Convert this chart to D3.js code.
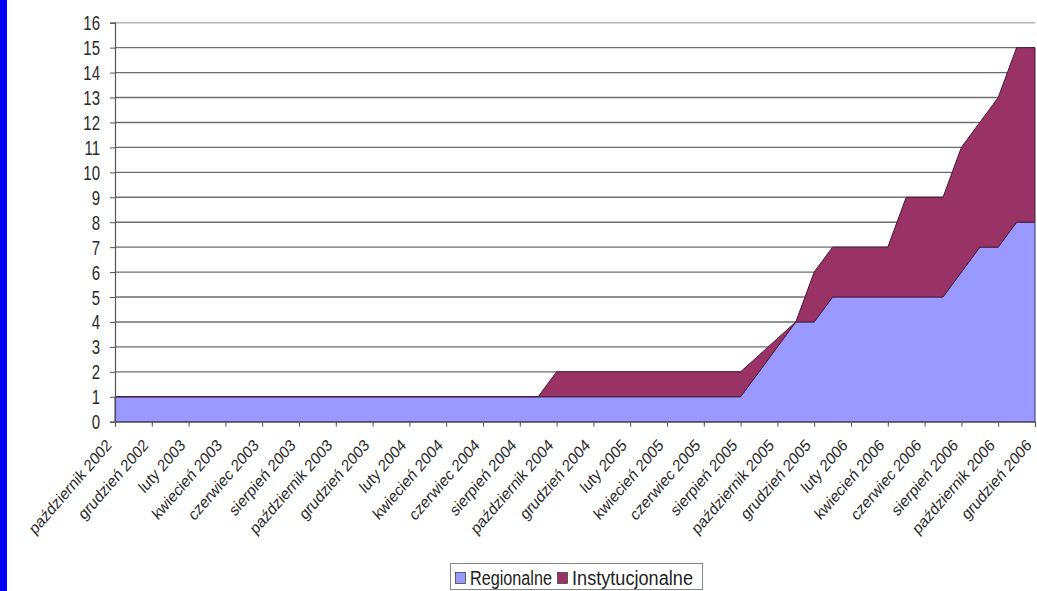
<!DOCTYPE html>
<html><head><meta charset="utf-8">
<script src="https://cdn.jsdelivr.net/npm/d3@7/dist/d3.min.js"></script>
<style>body{margin:0;background:#fff;}svg{display:block;font-family:"Liberation Sans",Arial,sans-serif;}</style>
</head><body>
<svg id="c" width="1037" height="591"></svg>
<script>
// Data
const startMonth = "2002-10";
const pointDates = ["2002-10","2004-09","2004-10","2005-08","2005-11","2005-12","2006-01","2006-04","2006-05","2006-07","2006-08","2006-09","2006-10","2006-11","2006-12"];
const regionalne = [1,1,1,1,4,4,5,5,5,5,6,7,7,8,8];
const instytucjonalne = [0,0,1,1,0,2,2,2,4,4,5,5,6,7,7];
const seriesNames = ["Regionalne","Instytucjonalne"];
const tickLabels = ["październik 2002","grudzień 2002","luty 2003","kwiecień 2003","czerwiec 2003","sierpień 2003",
 "październik 2003","grudzień 2003","luty 2004","kwiecień 2004","czerwiec 2004","sierpień 2004",
 "październik 2004","grudzień 2004","luty 2005","kwiecień 2005","czerwiec 2005","sierpień 2005",
 "październik 2005","grudzień 2005","luty 2006","kwiecień 2006","czerwiec 2006","sierpień 2006",
 "październik 2006","grudzień 2006"];
const yTicks = d3.range(0,17);

const colors = ["#9999FF","#993366"];
const svg = d3.select("#c");
const STRETCH_Y = 1.3;
const STRETCH_X = 1.15;

function monthIndex(s){ const [y,m]=s.split("-").map(Number); const [y0,m0]=startMonth.split("-").map(Number); return (y-y0)*12+(m-m0); }

const x = d3.scaleLinear().domain([0,50]).range([115,1035]);
const y = d3.scaleLinear().domain([0,16]).range([421.7,22.7]);

// blue left strip
svg.append("rect").attr("x",0).attr("y",0).attr("width",7).attr("height",591).attr("fill","#0000FF");

// gridlines
svg.append("g").selectAll("line").data(yTicks.filter(d=>d>0)).join("line")
  .attr("x1",115).attr("x2",1035).attr("y1",d=>y(d)).attr("y2",d=>y(d))
  .attr("stroke",d=>d===16?"#b5b5b5":"#6e6e6e").attr("stroke-width",1.4);

// stacked data
const rows = pointDates.map((d,i)=>({m:monthIndex(d), Regionalne:regionalne[i], Instytucjonalne:instytucjonalne[i]}));
const stack = d3.stack().keys(seriesNames)(rows);
const area = d3.area().x(d=>x(d.data.m)).y0(d=>y(d[0])).y1(d=>y(d[1]));
svg.append("g").selectAll("path").data(stack).join("path")
  .attr("d",area).attr("fill",(d,i)=>colors[i])
  .attr("stroke",(d,i)=>i===0?"#3a3a7a":"#4a1838").attr("stroke-width",1).attr("stroke-linejoin","round");

// y axis
const yAxis = svg.append("g").attr("transform","translate(115,0)")
  .call(d3.axisLeft(y).tickValues(yTicks).tickSize(5).tickFormat(d3.format("d")));
yAxis.select(".domain").attr("stroke","#555").attr("stroke-width",1.2);
yAxis.selectAll(".tick line").attr("stroke","#555");
yAxis.selectAll(".tick text").attr("x",null).attr("dy",null).attr("y",null)
  .attr("transform",`translate(-15,7) scale(1,${STRETCH_Y})`)
  .attr("text-anchor","end").attr("font-size",15).attr("fill","#2a2a2a")
  .attr("font-family","Liberation Sans, Arial, sans-serif");

// x axis
const xAxis = svg.append("g").attr("transform",`translate(0,${y(0)})`)
  .call(d3.axisBottom(x).tickValues(d3.range(0,51,2)).tickSize(5).tickFormat((d,i)=>tickLabels[i]));
xAxis.select(".domain").attr("stroke","#555").attr("stroke-width",1.2);
xAxis.selectAll(".tick line").attr("stroke","#555");
xAxis.selectAll(".tick text").attr("x",null).attr("dy",null).attr("y",null)
  .attr("transform",`translate(-3,24.5) scale(1,${STRETCH_X}) rotate(-45)`)
  .attr("text-anchor","end").attr("font-size",14.5).attr("fill","#2a2a2a")
  .attr("font-family","Liberation Sans, Arial, sans-serif");

// legend
const lg = svg.append("g");
lg.append("rect").attr("x",450.5).attr("y",563.5).attr("width",252).attr("height",26)
  .attr("fill","#fff").attr("stroke","#888");
const legendItems = [
  {name:seriesNames[0], color:colors[0], sx:455.5, tx:470, len:82},
  {name:seriesNames[1], color:colors[1], sx:557.5, tx:572, len:121}
];
legendItems.forEach(it=>{
  lg.append("rect").attr("x",it.sx).attr("y",572.5).attr("width",10).attr("height",11)
    .attr("fill",it.color).attr("stroke","#444").attr("stroke-width",0.8);
  lg.append("text").attr("transform",`translate(${it.tx},585) scale(1,${STRETCH_Y})`)
    .attr("font-size",16).attr("fill","#222").attr("textLength",it.len).attr("lengthAdjust","spacingAndGlyphs")
    .text(it.name);
});
</script>
</body></html>
